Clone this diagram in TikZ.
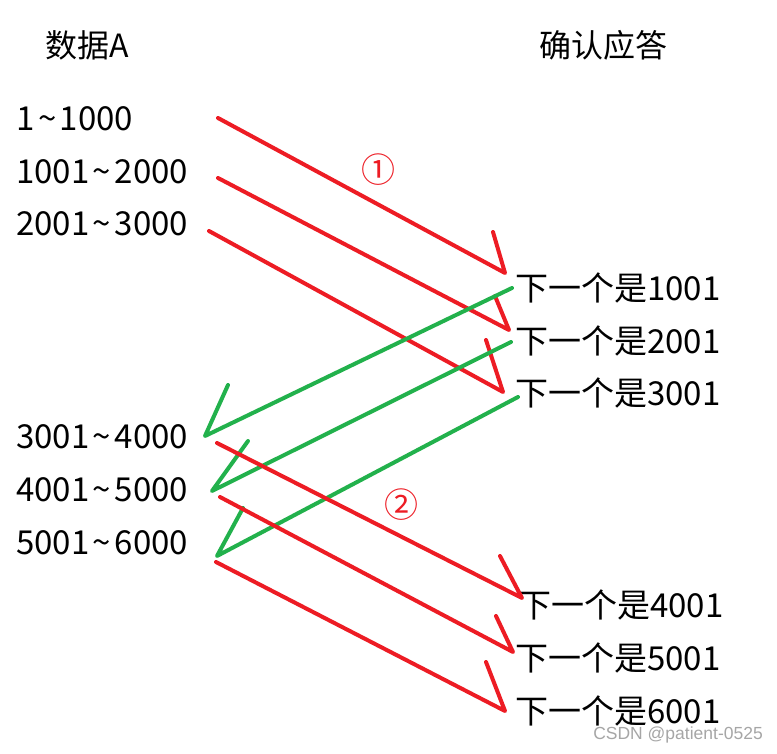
\documentclass[tikz,border=0pt]{standalone}
\usepackage{fontspec}
\setmainfont{Noto Sans CJK SC}
\newfontfamily\wmfont{Liberation Sans}
\definecolor{pred}{RGB}{237,28,36}
\definecolor{pgreen}{RGB}{34,177,76}
\newcommand{\tld}{\kern3.5pt\char"7E\kern3.5pt}
\begin{document}
\begin{tikzpicture}[x=1pt,y=-1pt,
  lbl/.style={font=\fontsize{33}{33}\selectfont, inner sep=0pt, anchor=west},
  hdr/.style={font=\fontsize{32}{32}\selectfont, inner sep=0pt},
  redline/.style={draw=pred, line width=4pt, line cap=round, line join=round},
  greenline/.style={draw=pgreen, line width=4pt, line cap=round, line join=round},
  circnum/.style={font=\fontsize{34}{34}\selectfont, text=pred, inner sep=0pt}]
\useasboundingbox[fill=white] (0,0) rectangle (777,754);

% headers
\node[hdr] (hA) at (87,45) {数据A};
\node[hdr] (hB) at (603,45) {确认应答};

% left labels
\node[lbl] (d1) at (16,119) {1\tld 1000};
\node[lbl] (d2) at (16,172) {1001\tld 2000};
\node[lbl] (d3) at (16,224) {2001\tld 3000};
\node[lbl] (d4) at (16,437) {3001\tld 4000};
\node[lbl] (d5) at (16,490) {4001\tld 5000};
\node[lbl] (d6) at (16,543) {5001\tld 6000};

% right labels
\node[lbl] (a1) at (515,288) {下一个是1001};
\node[lbl] (a2) at (515,341) {下一个是2001};
\node[lbl] (a3) at (515,393) {下一个是3001};
\node[lbl] (a4) at (518,605) {下一个是4001};
\node[lbl] (a5) at (515,658) {下一个是5001};
\node[lbl] (a6) at (515,711) {下一个是6001};

% circled numbers
\node[circnum] (c1) at (378,170) {①};
\node[circnum] (c2) at (401,505) {②};

% watermark
\node[font=\wmfont\fontsize{17.5}{17.5}\selectfont, text=black!35, inner sep=0pt, anchor=east] (wm) at (763,735) {CSDN @patient-0525};

% red arrows, group 1
\coordinate (r1s) at (218,118); \coordinate (r1t) at (505,273); \coordinate (r1b) at (493,232);
\coordinate (r2s) at (218,178); \coordinate (r2t) at (509,330); \coordinate (r2b) at (495,296);
\coordinate (r3s) at (209,231); \coordinate (r3t) at (503,392); \coordinate (r3b) at (486,340);
\draw[redline] (r1s) -- (r1t) -- (r1b);
\draw[redline] (r2s) -- (r2t) -- (r2b);
\draw[redline] (r3s) -- (r3t) -- (r3b);

% green arrows
\coordinate (g1s) at (512,288); \coordinate (g1t) at (205,436); \coordinate (g1b) at (228,385);
\coordinate (g2s) at (511,342); \coordinate (g2t) at (212,491); \coordinate (g2b) at (248,441);
\coordinate (g3s) at (518,397); \coordinate (g3t) at (217,556); \coordinate (g3b) at (243,508);
\draw[greenline] (g1s) -- (g1t) -- (g1b);
\draw[greenline] (g2s) -- (g2t) -- (g2b);
\draw[greenline] (g3s) -- (g3t) -- (g3b);

% red arrows, group 2
\coordinate (r4s) at (217,443); \coordinate (r4t) at (522,598); \coordinate (r4b) at (500,556);
\coordinate (r5s) at (220,497); \coordinate (r5t) at (513,652); \coordinate (r5b) at (496,616);
\coordinate (r6s) at (216,562); \coordinate (r6t) at (505,711); \coordinate (r6b) at (486,662);
\draw[redline] (r4s) -- (r4t) -- (r4b);
\draw[redline] (r5s) -- (r5t) -- (r5b);
\draw[redline] (r6s) -- (r6t) -- (r6b);
\end{tikzpicture}
\end{document}
